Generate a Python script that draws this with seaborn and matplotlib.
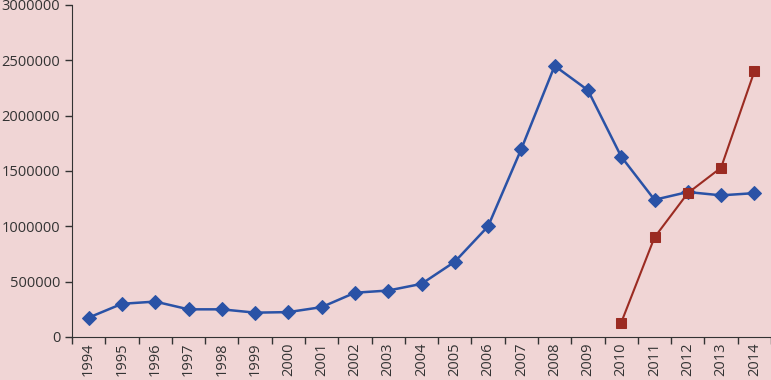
import numpy as np
import pandas as pd
import matplotlib
matplotlib.use("Agg")
import matplotlib.pyplot as plt
import seaborn as sns
from matplotlib.ticker import FixedLocator

# Data
years = [str(y) for y in range(1994, 2015)]
blue_values = [175000, 300000, 320000, 250000, 250000, 220000, 225000, 270000,
               400000, 420000, 480000, 680000, 1000000, 1700000, 2450000,
               2230000, 1630000, 1240000, 1310000, 1280000, 1300000]
red_years = ["2010", "2011", "2012", "2013", "2014"]
red_values = [130000, 900000, 1300000, 1530000, 2400000]

bg = "#F0D5D5"
blue = "#2A52A6"
red = "#9B2B22"

sns.set_style("ticks")
plt.rcParams["font.family"] = ["Open Sans", "DejaVu Sans"]

blue_df = pd.DataFrame({"pos": range(len(years)), "value": blue_values})
red_df = pd.DataFrame({"pos": [years.index(y) for y in red_years], "value": red_values})

fig = plt.figure(figsize=(7.71, 3.80), dpi=100, facecolor=bg)
ax = fig.add_axes([72 / 771, 1 - 337 / 380, 1 - 72 / 771, (337 - 5) / 380])
ax.set_facecolor(bg)

sns.lineplot(data=blue_df, x="pos", y="value", ax=ax, color=blue, linewidth=1.8,
             marker="D", markersize=7, markeredgecolor=blue)
sns.lineplot(data=red_df, x="pos", y="value", ax=ax, color=red, linewidth=1.5,
             marker="s", markersize=7, markeredgecolor=red)

ax.set_xlim(-0.5, len(years) - 0.5)
ax.set_ylim(0, 3000000)
ax.set_yticks(np.arange(0, 3000001, 500000))
ax.set_yticklabels([f"{int(v)}" for v in np.arange(0, 3000001, 500000)], fontsize=10.5, color="#333333")

ax.set_xticks(range(len(years)))
ax.set_xticklabels(years, rotation=90, fontsize=10.5, color="#333333")
ax.tick_params(axis="x", which="major", length=0, pad=4)
ax.xaxis.set_minor_locator(FixedLocator(np.arange(-0.5, len(years), 1)))
ax.tick_params(axis="x", which="minor", length=5, width=1, color="#333333")
ax.tick_params(axis="y", length=5, width=1, color="#333333")

ax.set_xlabel("")
ax.set_ylabel("")
for side in ["top", "right"]:
    ax.spines[side].set_visible(False)
for side in ["left", "bottom"]:
    ax.spines[side].set_color("#333333")

fig.savefig("out.png", dpi=100, facecolor=bg)
